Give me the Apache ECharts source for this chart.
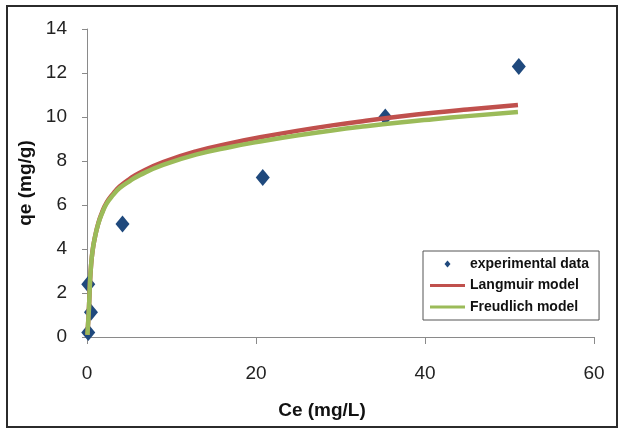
<!DOCTYPE html>
<html>
<head>
<meta charset="utf-8">
<script src="https://cdn.jsdelivr.net/npm/echarts@6/dist/echarts.min.js"></script>
<style>
html,body{margin:0;padding:0;background:#fff;}
#chart{width:620px;height:429px;}
</style>
</head>
<body>
<div id="chart"></div>
<script>
// Experimental data
var expCe = [0.15, 0.47, 0.15, 4.2, 20.8, 35.3, 51.1];
var expQe = [0.2, 1.12, 2.4, 5.14, 7.25, 10.0, 12.3];

// Model curves
var modelCe = [0.05, 0.24, 0.35, 0.47, 0.67, 0.95, 1.34, 1.74, 2.3, 3.1, 3.9, 5.1, 6.3, 9, 13, 17, 21, 25, 29, 33, 37, 41, 45, 51];
var langmuirQe = [0.1, 1.4, 2.45, 3.2, 3.95, 4.56, 5.18, 5.62, 6.1, 6.52, 6.85, 7.2, 7.48, 7.95, 8.45, 8.81, 9.11, 9.38, 9.62, 9.83, 10.02, 10.19, 10.34, 10.55];
var freundlichQe = [0.1, 1.4, 2.45, 3.2, 3.95, 4.55, 5.15, 5.58, 6.05, 6.46, 6.78, 7.1, 7.37, 7.82, 8.3, 8.64, 8.92, 9.17, 9.39, 9.58, 9.75, 9.9, 10.04, 10.23];

var seriesNames = ['experimental data', 'Langmuir model', 'Freudlich model'];
var xTicks = [0, 20, 40, 60];
var yTicks = [0, 2, 4, 6, 8, 10, 12, 14];

function pairs(xs, ys) { return xs.map(function (x, i) { return [x, ys[i]]; }); }

var FONT = "'Liberation Sans', Arial, sans-serif";
var LINE_ICON = 'path://M0,0M35,14M0,5.5L35,5.5L35,8.5L0,8.5Z';
var chart = echarts.init(document.getElementById('chart'), null, {renderer: 'canvas'});
chart.setOption({
  animation: false,
  backgroundColor: '#fff',
  textStyle: {fontFamily: FONT},
  graphic: [{
    type: 'rect', shape: {x: 7, y: 6, width: 610, height: 421},
    style: {fill: 'none', stroke: '#2b2b2b', lineWidth: 2}, z: -1
  }],
  grid: {left: 87, right: 26, top: 29, bottom: 92},
  legend: {
    orient: 'vertical', left: 423, top: 251,
    padding: [6, 10, 6, 7], itemGap: 7.5,
    itemWidth: 35, itemHeight: 14, itemTextGap: 2,
    borderColor: '#555', borderWidth: 1, backgroundColor: '#fff',
    textStyle: {fontFamily: FONT, fontWeight: 'bold', fontSize: 14, color: '#111'},
    data: [
      {name: seriesNames[0], icon: 'path://M0,0M35,14M17.5,3.5L20.5,7L17.5,10.5L14.5,7Z'},
      {name: seriesNames[1], icon: LINE_ICON},
      {name: seriesNames[2], icon: LINE_ICON}
    ]
  },
  xAxis: {
    type: 'value', min: xTicks[0], max: xTicks[xTicks.length - 1], interval: 20,
    name: 'Ce (mg/L)', nameLocation: 'middle', nameGap: 64,
    nameTextStyle: {fontFamily: FONT, fontWeight: 'bold', fontSize: 19, color: '#111', padding: [0, 37, 0, 0]},
    axisLine: {show: true, lineStyle: {color: '#8a8a8a', width: 1}},
    axisTick: {show: true, length: 7, lineStyle: {color: '#8a8a8a'}},
    axisLabel: {fontFamily: FONT, fontSize: 19, color: '#222', margin: 27},
    splitLine: {show: false}
  },
  yAxis: {
    type: 'value', min: yTicks[0], max: yTicks[yTicks.length - 1], interval: 2,
    name: 'qe (mg/g)', nameLocation: 'middle', nameGap: 39,
    nameTextStyle: {fontFamily: FONT, fontWeight: 'bold', fontSize: 19, color: '#111'},
    axisLine: {show: true, lineStyle: {color: '#8a8a8a', width: 1}},
    axisTick: {show: true, length: 5, lineStyle: {color: '#8a8a8a'}},
    axisLabel: {fontFamily: FONT, fontSize: 19, color: '#222', margin: 20},
    splitLine: {show: false}
  },
  series: [
    {
      name: seriesNames[0], type: 'scatter', symbol: 'diamond', symbolSize: [14, 17],
      itemStyle: {color: '#1F497D', opacity: 1}, z: 1,
      data: pairs(expCe, expQe)
    },
    {
      name: seriesNames[1], type: 'line', symbol: 'none', smooth: 0.5,
      lineStyle: {color: '#C0504D', width: 4.5}, itemStyle: {color: '#C0504D'}, z: 2,
      data: pairs(modelCe, langmuirQe)
    },
    {
      name: seriesNames[2], type: 'line', symbol: 'none', smooth: 0.5,
      lineStyle: {color: '#9BBB59', width: 4.5}, itemStyle: {color: '#9BBB59'}, z: 3,
      data: pairs(modelCe, freundlichQe)
    }
  ]
});
</script>
</body>
</html>
